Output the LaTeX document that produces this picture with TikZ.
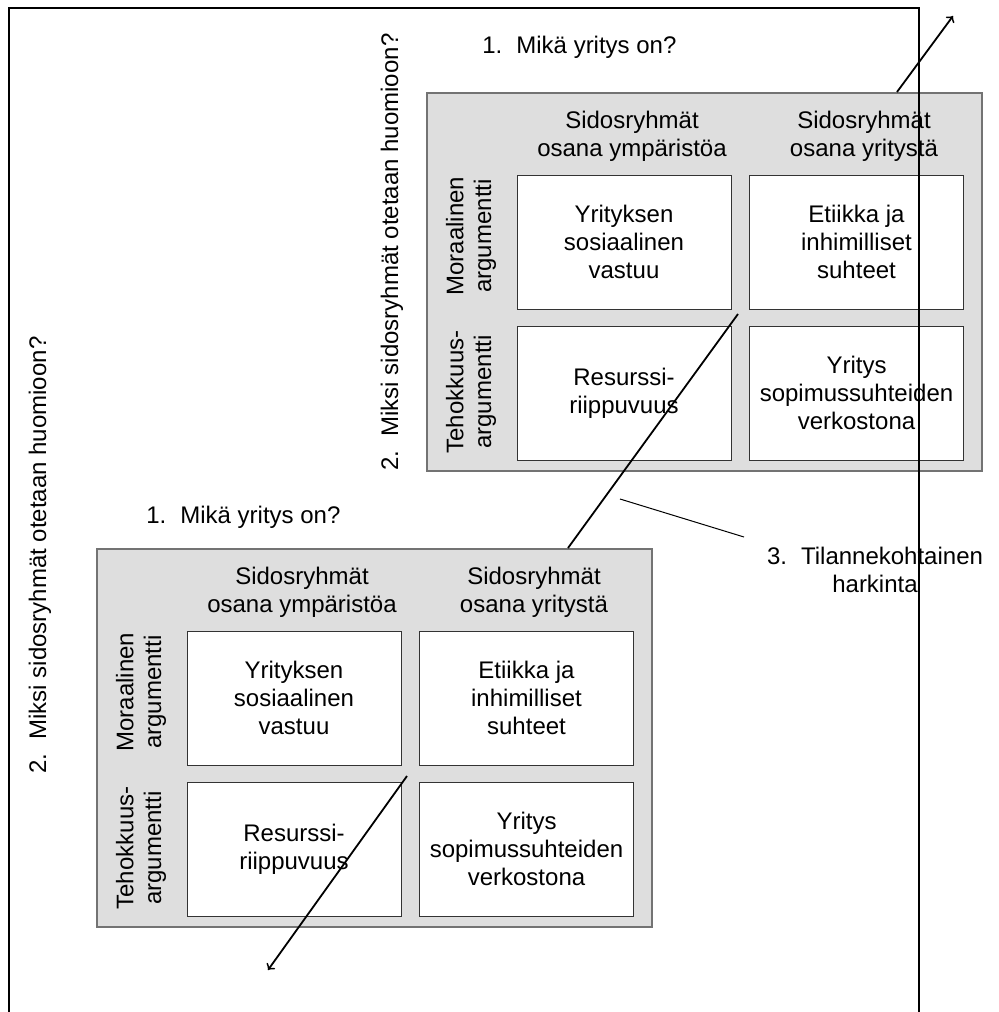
\documentclass[tikz,border=0pt]{standalone}
\usepackage{fontspec}
\setmainfont{Liberation Sans}
\usepackage{tikz}

\begin{document}
\begin{tikzpicture}[x=0.5pt,y=-0.5pt,
    txt/.style={align=center,inner sep=0pt,font=\fontsize{12}{13.8}\selectfont},
    cell/.style={txt,draw=black!80,line width=0.5pt,fill=white,minimum width=107pt,minimum height=67pt},
    panel/.style={draw=black!55,line width=0.6pt,fill=black!13,minimum width=277.5pt,minimum height=189pt},
    arrow/.style={line width=0.9pt}]
    \useasboundingbox (0,0) rectangle (998,1012);
    % the two tables
    \foreach \px/\py/\pn in {427/93/up,97/549/lo}{
    \begin{scope}[shift={(\px,\py)}]
    \node[panel] (\pn) at (277.5,189) {};
    \node[txt] (\pn-ymp) at (205,43) {Sidosryhmät\\osana ympäristöa};
    \node[txt] (\pn-yri) at (437,43) {Sidosryhmät\\osana yritystä};
    \node[txt,rotate=90] (\pn-mor) at (44,143) {Moraalinen\\argumentti};
    \node[txt,rotate=90] (\pn-teh) at (44,299) {Tehokkuus-\\argumentti};
    \node[cell] (\pn-vas) at (197,149) {Yrityksen\\sosiaalinen\\vastuu};
    \node[cell] (\pn-eti) at (429.5,149) {Etiikka ja\\inhimilliset\\suhteet};
    \node[cell] (\pn-res) at (197,300) {Resurssi-\\riippuvuus};
    \node[cell] (\pn-ver) at (429.5,300) {Yritys\\sopimussuhteiden\\verkostona};
    \end{scope}
    }
    \node[txt,anchor=west] (up-q1) at (482,47) {1.\hspace{7pt}Mikä yritys on?};
    \node[txt,anchor=west] (lo-q1) at (146,517) {1.\hspace{7pt}Mikä yritys on?};
    \node[txt,rotate=90] (up-q2) at (392,252) {2.\hspace{7pt}Miksi sidosryhmät otetaan huomioon?};
    \node[txt,rotate=90] (lo-q2) at (40,555) {2.\hspace{7pt}Miksi sidosryhmät otetaan huomioon?};
    \node[txt] (q3) at (875,570) {3.\hspace{7pt}Tilannekohtainen\\harkinta};
    % the diagonal
    \coordinate (d1) at (407,776);
    \coordinate (d0) at (268,970);
    \coordinate (d2) at (568,548);
    \coordinate (d3) at (738,314);
    \coordinate (d4) at (897,92);
    \coordinate (d5) at (953,16);
    \draw[arrow,->] (d1) -- (d0);
    \draw[arrow] (d2) -- (d3);
    \draw[arrow,->] (d4) -- (d5);
    \coordinate (p0) at (620,499);
    \coordinate (p1) at (744,537);
    \draw[line width=0.5pt] (p0) -- (p1);
    % frame
    \draw[line width=1.3pt] (9,1012) -- (9,8) -- (919,8) -- (919,1012);
\end{tikzpicture}
\end{document}
